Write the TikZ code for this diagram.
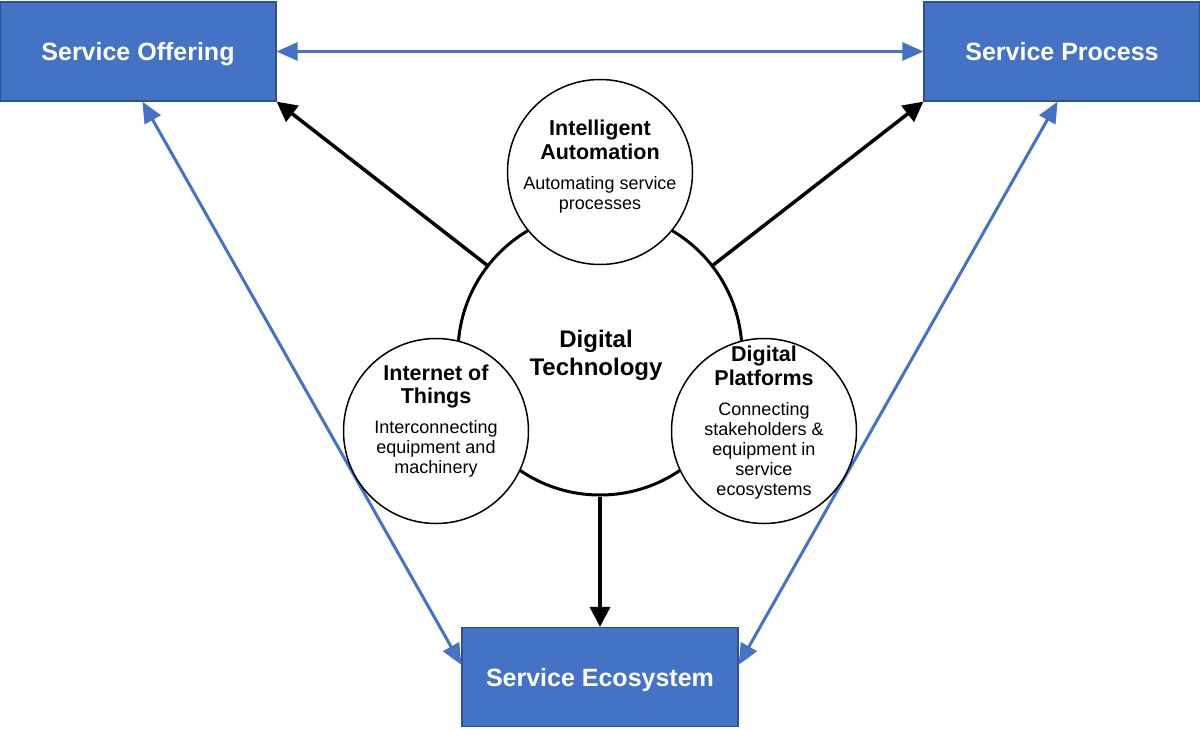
\documentclass[tikz,border=0pt]{standalone}
\usepackage{fontspec}
\setmainfont{Liberation Sans}
\usetikzlibrary{arrows.meta, positioning}

\definecolor{boxblue}{HTML}{4472C4}
\definecolor{boxedge}{HTML}{2F528F}

\newcommand{\titlefont}{\fontsize{21.5}{23}\selectfont\bfseries}

\tikzset{
  svcbox/.style={draw=boxedge, line width=1.2pt, fill=boxblue, minimum width=276pt,
    minimum height=99pt, inner sep=0pt, text depth=0pt, text=white,
    font=\fontsize{25}{30}\selectfont\bfseries},
  bigcirc/.style={circle, draw, line width=3pt, minimum size=284pt, inner sep=0pt},
  techcirc/.style={circle, draw, line width=1.5pt, fill=white, minimum size=185pt, inner sep=0pt},
  techtext/.style={align=center, inner sep=0pt, font=\fontsize{18}{20}\selectfont},
  bluearrow/.style={draw=boxblue, line width=3pt,
    {Triangle[length=21pt,width=18pt]}-{Triangle[length=21pt,width=18pt]}},
  blackarrow/.style={line width=3.5pt, -{Triangle[length=20pt,width=20pt]}}
}

\begin{document}
\begin{tikzpicture}[x=1pt, y=-1pt]
  \useasboundingbox (0,0) rectangle (1200,729);

  % Service boxes
  \node[svcbox] (so) at (138,51.5) {Service Offering};
  \node[svcbox] (sp) at (1062,51.5) {Service Process};
  \node[svcbox] (se) at (600,677) {Service Ecosystem};

  % Blue links between the boxes
  \draw[bluearrow] (so.east) -- (sp.west);
  \draw[bluearrow] (so.-85) -- (se.175);
  \draw[bluearrow] (sp.-95) -- (se.5);

  % Digital technology and its three parts
  \node[bigcirc] (dt) at (600,353) {};
  \node[techcirc] (ia) at (600,172) {};
  \node[techcirc] (iot) at (436,431) {};
  \node[techcirc] (dp) at (764,431) {};

  \node[font=\fontsize{24}{28}\selectfont\bfseries, align=center, inner sep=0pt]
    (dtlab) at (596,355) {Digital\\Technology};
  \node[techtext] (ialab) at (600,167)
    {{\titlefont Intelligent}\\[3pt]{\titlefont Automation}\\[10pt]Automating service\\processes};
  \node[techtext] (iotlab) at (436,421)
    {{\titlefont Internet of}\\[3pt]{\titlefont Things}\\[10pt]Interconnecting\\equipment and\\machinery};
  \node[techtext] (dplab) at (764,423)
    {{\titlefont Digital}\\[3pt]{\titlefont Platforms}\\[10pt]Connecting\\stakeholders \&\\equipment in\\service\\ecosystems};

  % Black arrows out of digital technology
  \draw[blackarrow] (dt) -- (so.south east);
  \draw[blackarrow] (dt) -- (sp.south west);
  \draw[blackarrow] (dt) -- (se.north);
\end{tikzpicture}
\end{document}
